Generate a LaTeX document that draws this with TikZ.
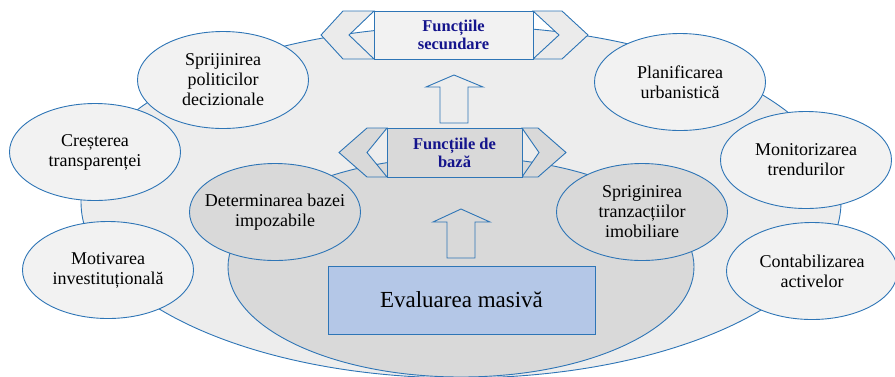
\documentclass[tikz,border=0pt]{standalone}
\usepackage{fontspec}
\setmainfont{Liberation Serif}
\usetikzlibrary{shapes.geometric}
\definecolor{bord}{HTML}{2E75B6}
\definecolor{outerfill}{HTML}{EDEDED}
\definecolor{lightfill}{HTML}{F2F2F2}
\definecolor{chevfill}{HTML}{EBEBEB}
\definecolor{darkfill}{HTML}{D9D9D9}
\definecolor{evalfill}{HTML}{B4C7E7}
\definecolor{headtxt}{HTML}{14148C}
\begin{document}
\begin{tikzpicture}[x=1pt,y=-1pt,
  bline/.style={draw=bord, line width=0.9pt},
  oval/.style={ellipse, bline, fill=lightfill, minimum width=171pt, minimum height=97pt, inner sep=0pt},
  ovaldark/.style={oval, fill=darkfill},
  ovaltext/.style={align=center, inner sep=0pt, font=\fontsize{18}{20}\selectfont},
  headtext/.style={align=center, text=headtxt, font=\bfseries\fontsize{16.5}{18}\selectfont, inner sep=0pt},
  blockarrow/.style={bline, line join=miter}
]
\clip (0,0) rectangle (895,376);
% background ellipses
\node[ellipse, bline, fill=outerfill, minimum width=760pt, minimum height=352pt, inner sep=0pt] (outer) at (461,202) {};
\node[ellipse, bline, fill=darkfill, minimum width=466pt, minimum height=220pt, inner sep=0pt] (inner) at (461,267) {};
% outer ring ellipses
\node[oval] (sprij) at (223,80) {};
\node[ovaltext] at (sprij) {Sprijinirea\\politicilor\\decizionale};
\node[oval] (crest) at (95,152) {};
\node[ovaltext] at (crest) {Creșterea\\transparenței};
\node[oval] (motiv) at (108,270) {};
\node[ovaltext] at (motiv) {Motivarea\\investituțională};
\node[oval] (plan) at (680,82) {};
\node[ovaltext] at (plan) {Planificarea\\urbanistică};
\node[oval] (monit) at (806,160) {};
\node[ovaltext] at (monit) {Monitorizarea\\trendurilor};
\node[oval] (conta) at (812,271) {};
\node[ovaltext] at (conta) {Contabilizarea\\activelor};
% inner ring ellipses
\node[ovaldark] (determ) at (275,212) {};
\node[ovaltext] at (determ) {Determinarea bazei\\impozabile};
\node[ovaldark] (sprig) at (642,212) {};
\node[ovaltext] at (sprig) {Spriginirea\\tranzacțiilor\\imobiliare};
% secondary ribbon
\filldraw[bline, fill=chevfill, line join=miter] (343,11)--(374,11)--(349,35)--(374,59)--(343,59)--(321,35)--cycle;
\filldraw[bline, fill=chevfill, line join=miter] (533,11)--(562,11)--(588,35)--(562,59)--(533,59)--(559,35)--cycle;
\filldraw[bline, fill=lightfill] (374,11) rectangle (533,59);
\node[headtext] (sec) at (453.5,35) {Funcțiile\\secundare};
% base ribbon
\filldraw[bline, fill=darkfill, line join=miter] (367,128)--(387,128)--(367,152.5)--(387,177)--(367,177)--(339,152.5)--cycle;
\filldraw[bline, fill=darkfill, line join=miter] (522,128)--(538,128)--(566,152.5)--(538,177)--(522,177)--(539,152.5)--cycle;
\filldraw[bline, fill=darkfill] (387,128) rectangle (522,177);
\node[headtext] (baza) at (454.5,153) {Funcțiile de\\bază};
% block arrows
\draw[blockarrow] (454,75)--(483,87)--(468,87)--(468,123)--(440,123)--(440,87)--(426,87)--cycle;
\draw[blockarrow] (461,209)--(490,222)--(475,222)--(475,258)--(447,258)--(447,222)--(433,222)--cycle;
% evaluation box
\node[rectangle, bline, fill=evalfill, minimum width=267pt, minimum height=68pt, inner sep=0pt,
  font=\fontsize{23}{26}\selectfont] (eval) at (461.5,300) {Evaluarea masivă};
\end{tikzpicture}
\end{document}
